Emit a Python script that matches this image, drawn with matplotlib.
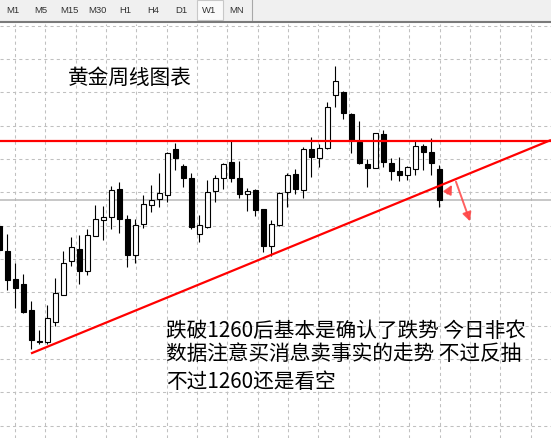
import matplotlib
matplotlib.use("Agg")
import matplotlib.pyplot as plt
from matplotlib.patches import Rectangle
import numpy as np

W, H, DPI = 551, 439, 100

# Weekly gold OHLC (USD/oz), oldest first
opens = [1230.0, 1207.5, 1182.0, 1177.5, 1154.1, 1126.2, 1125.6, 1143.0, 1167.9, 1197.9,
         1208.7, 1189.5, 1220.4, 1234.8, 1237.4, 1263.0, 1236.0, 1203.9, 1231.2, 1248.9,
         1253.7, 1257.9, 1299.0, 1283.7, 1272.6, 1222.2, 1229.1, 1261.6, 1273.2, 1287.3,
         1272.9, 1258.2, 1262.1, 1244.7, 1212.0, 1230.9, 1260.0, 1276.2, 1262.4, 1299.0,
         1290.6, 1299.9, 1347.3, 1350.3, 1330.5, 1305.6, 1285.2, 1281.6, 1312.2, 1286.1,
         1278.9, 1275.3, 1280.7, 1301.4, 1296.0, 1281.0]
highs = [1232.4, 1222.5, 1196.4, 1186.5, 1161.9, 1136.1, 1158.6, 1182.9, 1207.2, 1219.5,
         1221.6, 1227.0, 1248.6, 1247.4, 1265.7, 1269.6, 1239.6, 1236.0, 1257.6, 1266.6,
         1277.1, 1296.6, 1304.4, 1285.5, 1277.4, 1239.3, 1270.8, 1275.6, 1286.4, 1306.5,
         1288.5, 1263.9, 1262.7, 1245.3, 1235.1, 1260.6, 1277.4, 1281.0, 1300.5, 1309.5,
         1303.5, 1341.0, 1373.4, 1351.5, 1331.1, 1324.5, 1290.0, 1313.4, 1316.1, 1290.9,
         1292.1, 1283.4, 1306.5, 1303.5, 1308.6, 1284.6]
lows = [1204.5, 1172.4, 1155.6, 1151.4, 1119.0, 1123.5, 1123.5, 1139.4, 1167.6, 1194.0,
        1177.5, 1185.6, 1220.4, 1217.4, 1227.0, 1223.4, 1193.1, 1196.1, 1227.9, 1242.6,
        1247.1, 1251.0, 1280.1, 1265.1, 1227.0, 1215.0, 1228.2, 1251.6, 1263.0, 1269.6,
        1254.6, 1243.5, 1238.4, 1206.6, 1202.9, 1230.0, 1247.1, 1258.5, 1254.9, 1273.5,
        1283.1, 1299.0, 1337.1, 1326.0, 1295.4, 1285.5, 1265.1, 1281.5, 1283.1, 1271.1,
        1270.5, 1271.4, 1275.9, 1280.4, 1275.6, 1247.1]
closes = [1208.4, 1181.4, 1173.6, 1152.6, 1127.4, 1124.9, 1146.6, 1169.1, 1196.1, 1210.5,
          1189.5, 1221.6, 1235.7, 1237.5, 1261.9, 1236.3, 1203.9, 1230.9, 1249.2, 1253.1,
          1259.1, 1295.4, 1291.2, 1273.2, 1229.1, 1230.3, 1260.3, 1272.7, 1285.2, 1272.6,
          1258.2, 1260.9, 1244.4, 1212.0, 1231.5, 1259.7, 1275.3, 1263.3, 1299.0, 1292.1,
          1299.6, 1336.5, 1359.9, 1331.1, 1307.1, 1286.1, 1282.2, 1313.1, 1287.0, 1279.5,
          1275.9, 1282.5, 1302.0, 1296.0, 1286.7, 1253.4]

# Drawn objects: resistance level, rising trendline (bar index, price), projected path
resistance = 1306.5
trend_x = [3.96, 68.96]
trend_y = [1115.0, 1307.1]
retest_x = [55.84, 56.75]
retest_y = [1256.7, 1269.0]
drop_x = [56.96, 58.96]
drop_y = [1272.0, 1231.5]

timeframes = ["M1", "M5", "M15", "M30", "H1", "H4", "D1", "W1", "MN"]
active_tf = "W1"
title = "黄金周线图表"
notes = ["跌破1260后基本是确认了跌势 今日非农",
         "数据注意买消息卖事实的走势 不过反抽",
         "不过1260还是看空"]

CJK = ["Noto Sans CJK SC", "DejaVu Sans"]

fig = plt.figure(figsize=(W / DPI, H / DPI), dpi=DPI, facecolor="white")

# ---- chart pane ----
chart_top = 25
ax = fig.add_axes([0, 0, 1, (H - chart_top) / H])
ax.set_facecolor("white")
ax.set_xlim(0.0875, 68.96)
ax.set_ylim(1038.9, 1411.5)
for s in ax.spines.values():
    s.set_visible(False)

ax.set_xticks(1.9625 + 3.7917 * np.arange(18))
ax.set_yticks(np.arange(1050, 1411, 30))
ax.tick_params(length=0, labelbottom=False, labelleft=False)
ax.grid(True, color="#c0c0c0", linestyle=(0, (3, 3)), linewidth=0.75)
ax.set_axisbelow(True)

idx = np.arange(len(opens))
o = np.array(opens); c = np.array(closes)
hi = np.array(highs); lo = np.array(lows)
up = c >= o

# current bid line
ax.axhline(closes[-1], color="#b8b8b8", linewidth=1.1, zorder=1)

ax.vlines(idx, lo, hi, color="black", linewidth=0.8, zorder=2)
body_lo = np.minimum(o, c)
body_h = np.maximum(np.abs(c - o), 0.4)
ax.bar(idx[up], body_h[up], bottom=body_lo[up], width=0.55,
       color="white", edgecolor="black", linewidth=0.8, zorder=3)
ax.bar(idx[~up], body_h[~up], bottom=body_lo[~up], width=0.55,
       color="black", edgecolor="black", linewidth=0.8, zorder=3)

ax.axhline(resistance, color="#ff0000", linewidth=1.6, zorder=4)
ax.plot(trend_x, trend_y, color="#ff0000", linewidth=1.6, zorder=4,
        solid_capstyle="butt")

arrow_col = "#ff4444"
ax.annotate("", xy=(retest_x[1], retest_y[1]), xytext=(retest_x[0], retest_y[0]),
            arrowprops=dict(arrowstyle="-|>", color=arrow_col, lw=1.4,
                            mutation_scale=13, alpha=0.85), zorder=5)
ax.annotate("", xy=(drop_x[1], drop_y[1]), xytext=(drop_x[0], drop_y[0]),
            arrowprops=dict(arrowstyle="-|>", color=arrow_col, lw=1.4,
                            mutation_scale=13, alpha=0.85), zorder=5)


def px(x, y):
    return x / W, 1 - y / H


fig.text(*px(68, 84), title, fontsize=14.9, family=CJK, color="black",
         ha="left", va="baseline")
for txt, base in zip(notes, [336.5, 359.5, 388]):
    fig.text(*px(166, base), txt, fontsize=14.9, family=CJK, color="black",
             ha="left", va="baseline")

# ---- timeframe toolbar ----
tb = fig.add_axes([0, (H - 22) / H, 1, 22 / H])
tb.set_facecolor("#f0f0f0")
tb.set_xlim(0, W)
tb.set_ylim(22, 0)
tb.set_xticks([]); tb.set_yticks([])
for s in tb.spines.values():
    s.set_visible(False)

tf_x = [12.5, 41, 69, 97.5, 125, 153, 181, 209.5, 236.5]
for name, x in zip(timeframes, tf_x):
    if name == active_tf:
        tb.add_patch(Rectangle((197, 0.5), 26, 20, facecolor="#fafafa",
                               edgecolor="#c8c8c8", linewidth=0.8))
    tb.text(x, 10.5, name, fontsize=6.8, family="Liberation Sans",
            color="#333333", ha="center", va="center")
tb.plot([252, 252], [0, 22], color="#a8a8a8", linewidth=0.8)

fig.add_artist(plt.Line2D([0, 1], [1 - 23 / H, 1 - 23 / H], color="#7a7a7a",
                          linewidth=1.5, transform=fig.transFigure))

fig.savefig("out.png", dpi=DPI, facecolor="white")
